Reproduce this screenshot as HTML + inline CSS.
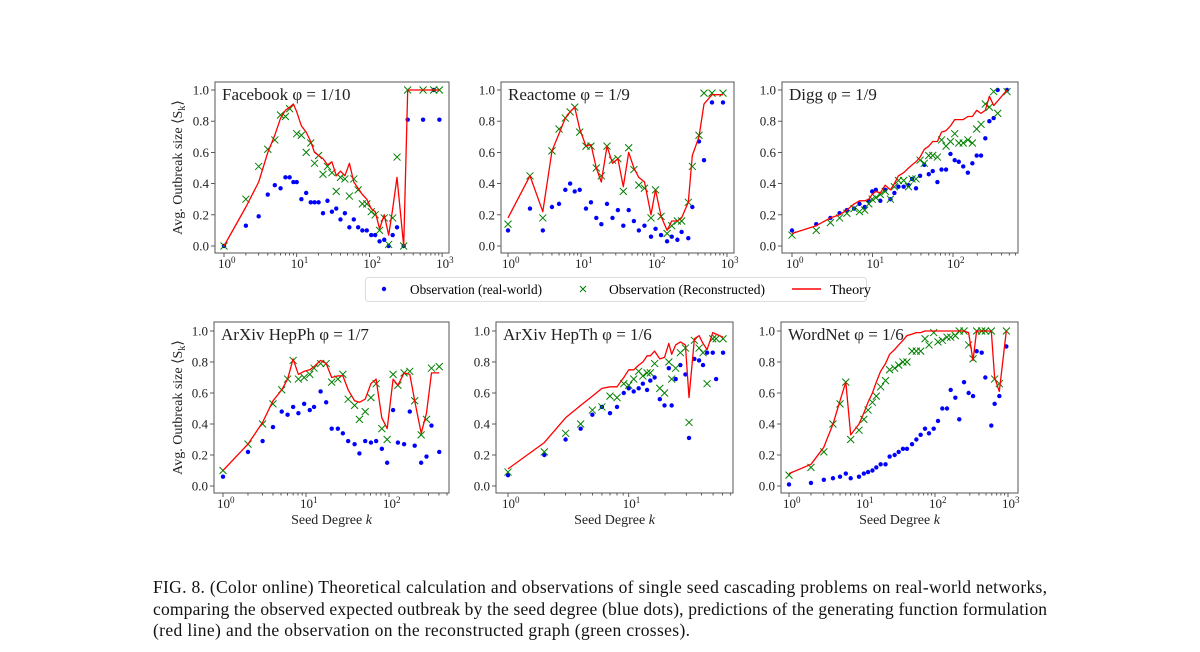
<!DOCTYPE html>
<html><head><meta charset="utf-8"><style>
body{margin:0;background:#fff;}
svg{display:block;font-family:"Liberation Serif",serif;}
</style></head><body>
<svg id="fig" width="1200" height="652" viewBox="0 0 1200 652" xmlns="http://www.w3.org/2000/svg">
<g id="panels"></g>
<g id="legend">
 <rect x="365.5" y="277.5" width="501" height="24" rx="3" fill="#fff" stroke="#ddd"/>
 <circle cx="384" cy="289" r="2.2" fill="#0000ff"/>
 <text x="410" y="294" font-size="14" textLength="132" lengthAdjust="spacingAndGlyphs">Observation (real-world)</text>
 <path d="M580 286 l6 6 M586 286 l-6 6" stroke="#008000" stroke-width="1"/>
 <text x="609" y="294" font-size="14" textLength="156" lengthAdjust="spacingAndGlyphs">Observation (Reconstructed)</text>
 <line x1="792" y1="289" x2="821" y2="289" stroke="#ff0000" stroke-width="1.5"/>
 <text x="830" y="294" font-size="14" textLength="41" lengthAdjust="spacingAndGlyphs">Theory</text>
</g>
<g font-size="17.5" fill="#111">
 <text x="153" y="593" textLength="894" lengthAdjust="spacing">FIG. 8.  (Color online) Theoretical calculation and observations of single seed cascading problems on real-world networks,</text>
 <text x="153" y="615" textLength="894" lengthAdjust="spacing">comparing the observed expected outbreak by the seed degree (blue dots), predictions of the generating function formulation</text>
 <text x="153" y="636" textLength="537" lengthAdjust="spacing">(red line) and the observation on the reconstructed graph (green crosses).</text>
</g>
</svg>
<script>
// ---- data ----
const fbK=[1,2,3,4,5,6,7,8,9,10,11.6,13.5,15.6,17.6,20,23,26.5,30.5,35,40,46,53,61,70,80,92,106,120,138,160,184,209,240,296,336,547,767,918];
const fbBlue=[0,.13,.19,.33,.39,.37,.44,.44,.41,.41,.30,.34,.28,.28,.28,.21,.29,.22,.24,.17,.21,.12,.17,.12,.10,.10,.07,.07,.03,.04,0,.07,.12,0,.81,.81,1.0,.81];
const fbGreen=[0,.30,.51,.62,.68,.84,.83,.88,null,.72,.71,.60,.66,.53,.58,.46,.51,.47,.35,.44,.43,.32,.43,.36,.27,.27,.22,.20,.10,.18,.01,.18,.57,0,1,1,1,1];
const fbRed=[0,.25,.41,.60,.71,.82,.87,.89,.91,.86,.77,.73,.67,.60,.58,.56,.52,.54,.45,.48,.45,.53,.41,.37,.33,.30,.24,.22,.11,.20,.07,.24,.44,0,1,1,1,1];

const reK=[1,2,3,4,5,6.1,7.1,8.2,9.6,11.7,13.7,16.2,19,22.7,27,32,38,45,53,62,74,91,105,125,151,175,209,239,295,335,413,484,623,881];
const reBlue=[.10,.24,.10,.25,.27,.36,.40,.35,.36,.24,.28,.18,.14,.27,.18,.23,.13,.23,.16,.10,.13,.06,.11,.07,.03,.06,.04,.09,.05,.25,.67,.55,.92,.92];
const reGreen=[.14,.45,.18,.61,.75,.82,.86,.89,.73,.64,.64,.50,.45,.64,.55,.56,.35,.63,.49,.39,.37,.18,.36,.19,.08,.13,.16,.16,.28,.51,.71,.98,.98,.98];
const reRed=[.18,.45,.22,.61,.72,.82,.86,.89,.75,.64,.65,.50,.41,.64,.53,.56,.38,.60,.50,.44,.41,.20,.36,.19,.10,.16,.16,.18,.28,.58,.70,.91,.97,.97];

const diK=[1,2,3,3.9,4.8,5.9,6.9,8,9,9.9,11,12.5,14.4,16.7,18.7,21,24.4,28,31,34.7,39,44,50,56,64,72,82,93,105,118,134,153,174,197,223,252,283,320,359,469];
const diBlue=[.10,.14,.18,.21,.23,.24,.27,.25,.29,.35,.36,.29,.36,.30,.34,.38,.38,.39,.43,.37,.45,.52,.46,.48,.41,.49,.49,.59,.55,.54,.51,.47,.53,.58,.58,.69,.80,.82,1.0,1.0];
const diGreen=[.07,.10,.15,.18,.21,.24,.22,.23,.27,.30,.31,.33,.35,.30,.38,.42,.42,.38,.43,.43,.55,.53,.58,.58,.57,.68,.64,.67,.72,.66,.66,.68,.66,.75,.78,.91,.89,.99,.85,.99];
const diRed=[.08,.13,.18,.20,.23,.27,.29,.29,.30,.33,.35,.34,.39,.36,.40,.45,.47,.50,.52,.54,.57,.62,.64,.67,.67,.73,.74,.77,.81,.81,.81,.83,.83,.87,.85,.87,.96,.90,.93,1.0];

const phK=[1,2,3,4,5.1,6,7,8.1,9.5,11.1,12.5,15,17.5,20.4,24.2,27.8,32.2,38.5,44,51.7,60.6,70,82,95,112,128,152,178,204,244,283,325,403];
const phBlue=[.06,.22,.29,.38,.48,.46,.51,.47,.53,.49,.51,.61,.54,.37,.37,.34,.29,.27,.21,.29,.28,.29,.24,.15,.49,.28,.27,.48,.26,.15,.19,.39,.22];
const phGreen=[.10,.27,.40,.53,.62,.69,.81,.69,.70,.72,.76,.79,.79,.67,.69,.72,.56,.52,.43,.48,.57,.66,.37,.30,.72,.65,.73,.74,.55,.33,.43,.76,.77];
const phRed=[.10,.27,.41,.55,.62,.69,.82,.72,.74,.75,.77,.81,.79,.70,.71,.71,.62,.55,.54,.56,.66,.69,.44,.37,.69,.65,.73,.72,.55,.34,.47,.73,.73];

const thK=[1,2,3,4,5,6,7,8,9.1,10,11,12.1,13.1,14.2,15.1,16.4,18.1,19.8,21.5,22.7,24.5,26.8,29.5,31.6,35,38.3,41.3,44.6,49.7,53,60.5];
const thBlue=[.07,.20,.30,.37,.46,.51,.47,.51,.60,.63,.61,.63,.66,.62,.68,.70,.56,.52,.76,.52,.69,.78,.72,.31,.82,.81,.78,.86,.86,.69,.86];
const thGreen=[.09,.22,.34,.40,.49,.51,.58,.57,.66,.65,.69,.74,.71,.73,.73,.79,.63,.60,.80,.69,.76,.86,.89,.41,.94,.89,.86,.66,.95,.95,.95];
const thRed=[.11,.28,.44,.52,.58,.63,.64,.64,.70,.75,.75,.78,.80,.84,.84,.87,.82,.83,.92,.85,.91,.93,.91,.57,.95,.97,.92,.88,.99,.98,.96];

const wnK=[1,2,3,4,5,6,7,9.1,10.6,12.1,13.9,15.7,18,21,23.9,28,31.8,36.4,41.3,48.4,55.5,63.6,73,82.7,96,110,126,146,164,190,215,250,289,332,372,436,489,591,656,761,949];
const wnBlue=[.01,.02,.04,.05,.06,.08,.05,.06,.08,.09,.10,.12,.14,.14,.19,.20,.22,.24,.24,.27,.30,.33,.37,.34,.37,.42,.50,.50,.62,.57,.43,.67,.60,.58,.87,.86,.70,.39,.53,.58,.90];
const wnGreen=[.07,.12,.22,.40,.53,.67,.30,.36,.43,.49,.54,.58,.64,.68,.75,.76,.78,.80,.80,.87,.87,.87,.95,.91,.99,.93,.94,.96,.96,.97,1.0,1.0,.91,.82,1.0,1.0,1.0,1.0,.69,.66,1.0];
const wnRed=[.08,.14,.25,.40,.55,.67,.33,.40,.47,.54,.60,.67,.74,.79,.85,.88,.91,.94,.97,.98,.99,.99,1.0,1.0,1.0,1.0,1.0,1.0,1.0,1.0,1.0,1.0,.99,.81,1.0,1.0,1.0,1.0,.70,.61,1.0];

const titles=["Facebook φ = 1/10","Reactome φ = 1/9","Digg φ = 1/9","ArXiv HepPh φ = 1/7","ArXiv HepTh φ = 1/6","WordNet φ = 1/6"];
const yTicks=[0,0.2,0.4,0.6,0.8,1.0];

// ---- layout ----
const panels=[
 {id:"facebook",k:fbK,b:fbBlue,g:fbGreen,r:fbRed,L:215,R:449,T:82,B:253,x0:224,dec:72.7,y0:246,y1:90,maxDec:3,left:true,bottom:false},
 {id:"reactome",k:reK,b:reBlue,g:reGreen,r:reRed,L:501,R:734,T:82,B:253,x0:508,dec:73,y0:246,y1:90,maxDec:3,left:false,bottom:false},
 {id:"digg",k:diK,b:diBlue,g:diGreen,r:diRed,L:782,R:1018,T:82,B:253,x0:792,dec:80.5,y0:246,y1:90,maxDec:2,left:false,bottom:false},
 {id:"hepph",k:phK,b:phBlue,g:phGreen,r:phRed,L:214,R:449,T:322,B:493,x0:223,dec:83,y0:486,y1:331,maxDec:2,left:true,bottom:true},
 {id:"hepth",k:thK,b:thBlue,g:thGreen,r:thRed,L:496,R:733,T:322,B:493,x0:508,dec:120.7,y0:486,y1:331,maxDec:1,left:false,bottom:true},
 {id:"wordnet",k:wnK,b:wnBlue,g:wnGreen,r:wnRed,L:781,R:1018,T:322,B:493,x0:789,dec:73,y0:486,y1:331,maxDec:3,left:false,bottom:true}
];
const NS="http://www.w3.org/2000/svg";
function mk(tag,attrs,parent){const e=document.createElementNS(NS,tag);for(const a in attrs)e.setAttribute(a,attrs[a]);parent.appendChild(e);return e;}
const root=document.getElementById("panels");
panels.forEach((p,i)=>{
  const xs=k=>p.x0+Math.log10(k)*p.dec;
  const ys=v=>p.y0-v*(p.y0-p.y1);
  const g=mk("g",{},root);
  
  
  // minor/major x ticks
  for(let d=0;d<=p.maxDec;d++){
    for(let m=1;m<10;m++){
      const x=xs(m*Math.pow(10,d));
      if(x>p.R) break;
      const t=mk("line",{x1:x,x2:x,y1:p.B,y2:p.B+(m===1?4:2.5),stroke:"#333","stroke-width":0.8},g);
      
      
    }
    const lab=mk("text",{x:xs(Math.pow(10,d))-6,y:p.B+15,"font-size":13,fill:"#222"},g);
    
    
    lab.textContent="10";
    const sup=mk("tspan",{dy:-5,"font-size":9},lab);sup.textContent=String(d);
  }
  yTicks.forEach(v=>{
    const y=ys(v);
    const t=mk("line",{x1:p.L-4,x2:p.L,y1:y,y2:y,stroke:"#333","stroke-width":0.8},g);
    
    
    const l=mk("text",{x:p.L-6,y:y+4.5,"font-size":13,"text-anchor":"end",fill:"#222"},g);
    
    
    l.textContent=v.toFixed(1);
  });
  const fr=mk("rect",{x:p.L,y:p.T,width:p.R-p.L,height:p.B-p.T,fill:"none",stroke:"#555","stroke-width":1},g);
  
  
  // blue dots
  p.k.forEach((k,j)=>{const v=p.b[j];if(v==null)return;
    const c=mk("circle",{cx:xs(k),cy:ys(v),r:2.2,fill:"#0000ff"},g);
    
    });
  // green crosses
  p.k.forEach((k,j)=>{const v=p.g[j];if(v==null)return;const x=xs(k),y=ys(v),s=3.5;
    const c=mk("path",{d:`M${x-s} ${y-s}L${x+s} ${y+s}M${x+s} ${y-s}L${x-s} ${y+s}`,stroke:"#008000","stroke-width":1,fill:"none"},g);
    
    });
  // red line
  const pts=p.k.map((k,j)=>xs(k).toFixed(1)+","+ys(p.r[j]).toFixed(1)).join(" ");
  const ln=mk("polyline",{points:pts,fill:"none",stroke:"#ff0000","stroke-width":1.3,"stroke-linejoin":"round"},g);
  
  
  // title
  const tt=mk("text",{x:p.L+7,y:p.T+18,"font-size":17,fill:"#222"},g);
  
  
  tt.textContent=titles[i];
  if(p.left){
    const yl=mk("text",{x:0,y:0,"font-size":14,"text-anchor":"middle",fill:"#222",transform:`translate(182,${(p.T+p.B)/2}) rotate(-90)`},g);
    
    
    yl.textContent="Avg. Outbreak size ⟨S";
    const sb=mk("tspan",{"font-size":10,dy:3},yl);sb.textContent="k";
    const cl=mk("tspan",{dy:-3},yl);cl.textContent="⟩";
  }
  if(p.bottom){
    const xl=mk("text",{x:(p.L+p.R)/2,y:524,"font-size":14,"text-anchor":"middle",fill:"#222"},g);
    
    
    xl.textContent="Seed Degree ";
    const it=mk("tspan",{"font-style":"italic"},xl);it.textContent="k";
  }
});
</script>
</body></html>
